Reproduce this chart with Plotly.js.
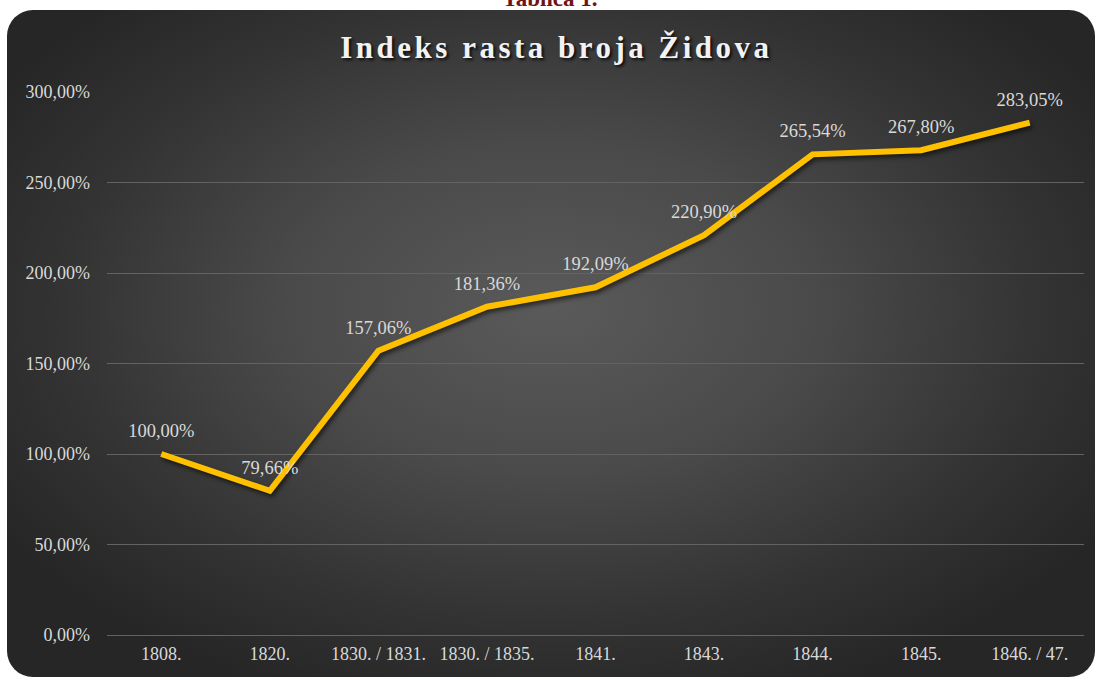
<!DOCTYPE html>
<html>
<head>
<meta charset="utf-8">
<script src="https://cdn.plot.ly/plotly-3.0.1.min.js"></script>
<style>
  html, body { margin: 0; padding: 0; background: #ffffff; width: 1095px; height: 677px; overflow: hidden; }
  #caption { position: absolute; left: 0; width: 1100px; top: -14px; text-align: center;
    font-family: 'Liberation Serif', serif; font-weight: bold; font-size: 23px; color: #6e1414; }
  #panel { position: absolute; left: 7px; top: 10px; width: 1088px; height: 667px;
    border-radius: 26px; overflow: hidden;
    background: radial-gradient(ellipse 60% 62% at 50% 45%, #5a5a5a 0%, #4a4a4a 40%, #333333 75%, #262626 100%); }
  #chart { width: 1088px; height: 667px; }
  .gtitle { letter-spacing: 3.5px; }
  .scatterlayer .js-line { filter: drop-shadow(2px 3px 2px rgba(0,0,0,0.55)); }
</style>
</head>
<body>
<div id="caption">Tablica 1.</div>
<div id="panel"><div id="chart"></div></div>
<script>
const categories = ['1808.', '1820.', '1830. / 1831.', '1830. / 1835.', '1841.', '1843.', '1844.', '1845.', '1846. / 47.'];
const indexValues = [100.00, 79.66, 157.06, 181.36, 192.09, 220.90, 265.54, 267.80, 283.05];
const labelTexts = ['100,00%', '79,66%', '157,06%', '181,36%', '192,09%', '220,90%', '265,54%', '267,80%', '283,05%'];
const yTickValues = [0, 50, 100, 150, 200, 250, 300];
const yTickLabels = ['0,00%', '50,00%', '100,00%', '150,00%', '200,00%', '250,00%', '300,00%'];

const serif = 'Liberation Serif';

const trace = {
  x: categories,
  y: indexValues,
  type: 'scatter',
  mode: 'lines+markers+text',
  line: { color: '#FFC000', width: 6 },
  marker: { size: 18, color: 'rgba(0,0,0,0)' },
  text: labelTexts,
  textposition: 'top center',
  textfont: { family: serif, size: 18.5, color: '#d9d9d9' },
  hoverinfo: 'none',
  cliponaxis: false
};

const layout = {
  width: 1088,
  height: 667,
  paper_bgcolor: 'rgba(0,0,0,0)',
  plot_bgcolor: 'rgba(0,0,0,0)',
  margin: { l: 100, r: 11, t: 82, b: 42 },
  showlegend: false,
  title: {
    text: 'Indeks rasta broja Židova',
    font: { family: serif, size: 31, color: '#f2f2f2', weight: 'bold',
            shadow: '2px 2px 3px rgba(0,0,0,0.8)' },
    x: 0.505, xanchor: 'center',
    yref: 'container', y: 1 - 37 / 667, yanchor: 'middle'
  },
  xaxis: {
    type: 'category',
    range: [-0.5, 8.5],
    showgrid: false,
    zeroline: false,
    showline: false,
    ticks: '',
    tickfont: { family: serif, size: 18, color: '#d9d9d9' },
    ticklabelstandoff: 6
  },
  yaxis: {
    range: [0, 300],
    tickmode: 'array',
    tickvals: yTickValues,
    ticktext: yTickLabels,
    showgrid: true,
    gridcolor: '#636363',
    gridwidth: 1,
    zeroline: true,
    zerolinecolor: '#636363',
    zerolinewidth: 1,
    showline: false,
    ticks: '',
    tickfont: { family: serif, size: 18, color: '#d9d9d9' },
    ticklabelstandoff: 16
  }
};

Plotly.newPlot('chart', [trace], layout, { displayModeBar: false, staticPlot: true });
</script>
</body>
</html>
